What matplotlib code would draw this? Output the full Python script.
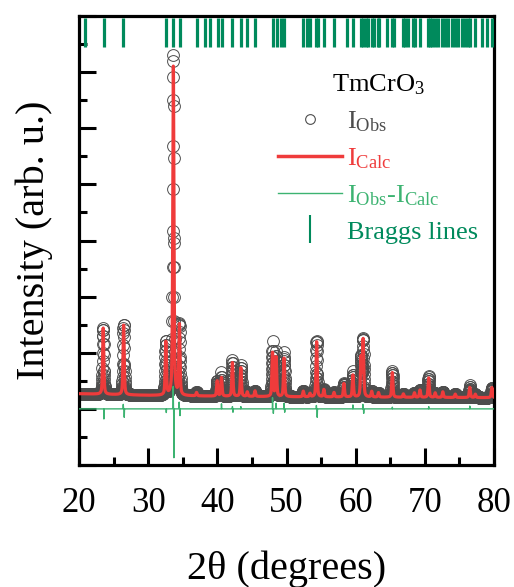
import numpy as np
import matplotlib
matplotlib.use("Agg")
import matplotlib.pyplot as plt
from matplotlib.lines import Line2D
from matplotlib.ticker import MultipleLocator

# ---------------- data ----------------
two_theta_start = 20.0
two_theta_stop = 80.0
two_theta_step = 0.02

# background level of the calculated pattern
bg_knots = [20, 30, 40, 50, 60, 70, 80]
bg_levels = [270, 240, 225, 215, 210, 205, 200]

# calculated reflections: position (deg) and height above background
peak_pos = [23.50, 26.45, 32.55, 33.64, 34.52, 37.00, 39.98, 40.60, 42.18,
            43.40, 44.33, 45.45, 47.98, 48.50, 49.65, 52.43, 53.40, 54.35,
            55.40, 56.87, 58.30, 59.60, 60.78, 61.08, 62.32, 63.30, 65.30,
            66.90, 68.50, 69.30, 70.55, 71.50, 72.60, 74.40, 76.50, 77.30,
            79.70]
peak_height = [1180, 1250, 950, 5860, 1250, 60, 270, 330, 600,
               510, 80, 100, 780, 700, 690, 100, 60, 990,
               130, 80, 240, 390, 690, 1010, 100, 80, 440,
               60, 80, 130, 350, 80, 100, 60, 180, 60,
               180]
peak_fwhm = 0.2

# residual (I_obs - I_calc) features: position and amplitude
diff_pos = [23.60, 26.40, 26.54, 32.62, 33.62, 33.72, 34.48, 34.60, 40.60,
            42.18, 42.26, 43.40, 47.98, 48.10, 48.50, 49.64, 49.74, 54.32,
            54.44, 59.60, 61.04, 61.16, 65.30, 70.56, 76.50]
diff_amp = [-180, 80, -150, -65, 400, -870, 120, -120, 90,
            40, -60, 40, 200, -80, 100, 100, -60, 60,
            -150, 70, 80, -80, 30, 40, 50]

# Bragg reflection positions
bragg_pos = [20.87, 23.66, 26.40, 32.53, 33.64, 34.60, 37.00, 38.20, 38.90,
             40.05, 40.63, 42.16, 43.42, 44.33, 45.45, 48.09, 48.58, 49.21,
             49.64, 52.43, 52.92, 53.40, 54.22, 54.60, 55.47, 56.87, 58.70,
             59.66, 60.77, 61.10, 61.45, 61.82, 62.32, 62.69, 63.18, 63.37,
             64.48, 65.21, 65.58, 66.88, 67.13, 67.61, 68.33, 68.58, 69.30,
             70.50, 70.74, 71.08, 71.47, 71.94, 72.52, 72.91, 73.39, 73.88,
             74.36, 74.84, 75.33, 75.80, 76.28, 76.53, 77.25, 78.22, 78.94,
             79.66]
bragg_low, bragg_high = 6450, 6960

x_ticks = [20, 30, 40, 50, 60, 70, 80]

# ---------------- profile construction ----------------
tt = np.arange(two_theta_start, two_theta_stop + 1e-9, two_theta_step)
calc = np.interp(tt, bg_knots, bg_levels).astype(float)
for p, h in zip(peak_pos, peak_height):
    u = (tt - p) / (peak_fwhm / 2.0)
    lor = 1.0 / (1.0 + u ** 2)
    gau = np.exp(-np.log(2) * u ** 2)
    calc += h * (0.5 * lor + 0.5 * gau)

diff = np.zeros_like(tt)
for p, a in zip(diff_pos, diff_amp):
    diff += a * np.exp(-0.5 * ((tt - p) / 0.012) ** 2)
obs = calc + diff

# ---------------- styling ----------------
plt.rcParams['font.family'] = ['Liberation Serif', 'DejaVu Serif']
plt.rcParams['mathtext.fontset'] = 'custom'
plt.rcParams['mathtext.rm'] = 'Liberation Serif'
plt.rcParams['mathtext.it'] = 'Liberation Serif:italic'
plt.rcParams['mathtext.bf'] = 'Liberation Serif:bold'

c_obs = '#4d4d4d'
c_calc = '#ef3b3b'
c_diff = '#3cb371'
c_bragg = '#008a5c'

fig = plt.figure(figsize=(5.14, 5.87), dpi=100)
ax = fig.add_axes([79 / 514, 1 - 465 / 587, 415 / 514, 449 / 587])

ax.plot(tt, obs, ls='none', marker='o', mfc='none', mec=c_obs, ms=8.5,
        mew=0.7, zorder=2)
ax.plot(tt, calc, color=c_calc, lw=2.3, zorder=3)
ax.plot(tt, diff, color=c_diff, lw=1.0, zorder=3)
ax.vlines(bragg_pos, bragg_low, bragg_high, color=c_bragg, lw=2.3, zorder=4)

ax.set_xlim(20, 80)
ax.set_ylim(-1000, 7000)
ax.set_xticks(x_ticks)
ax.set_xticklabels([str(v) for v in x_ticks])
ax.xaxis.set_minor_locator(MultipleLocator(5))
ax.yaxis.set_major_locator(MultipleLocator(1000))
ax.yaxis.set_minor_locator(MultipleLocator(500))
ax.tick_params(axis='both', which='major', direction='in', length=12,
               width=2.2, top=False, right=False, labelsize=25, pad=16)
ax.tick_params(axis='both', which='minor', direction='in', length=5.5,
               width=2.2, top=False, right=False)
ax.tick_params(axis='y', labelleft=False)
for s in ax.spines.values():
    s.set_linewidth(2.3)

ax.set_xlabel('2θ (degrees)', fontsize=29, labelpad=22)
ax.set_ylabel('Intensity (arb. u.)', fontsize=29, labelpad=15)

handles = [
    Line2D([], [], ls='none', marker='o', mfc='none', mec=c_obs, ms=7,
           mew=0.8),
    Line2D([], [], color=c_calc, lw=2.5),
    Line2D([], [], color=c_diff, lw=1.0),
    Line2D([], [], ls='none', marker='|', ms=20, mew=1.5, color=c_bragg),
]
labels = [r'I$_\mathrm{Obs}$', r'I$_\mathrm{Calc}$',
          r'I$_\mathrm{Obs}$-I$_\mathrm{Calc}$', 'Braggs lines']
leg = ax.legend(handles, labels, title=r'TmCrO$_3$', title_fontsize=19,
                fontsize=19, frameon=False, loc='upper right',
                bbox_to_anchor=(0.962, 0.875), borderpad=0,
                borderaxespad=0, handlelength=2.4, handletextpad=0.2,
                labelspacing=0.47)
for t, c in zip(leg.get_texts(), [c_obs, c_calc, c_diff, c_bragg]):
    t.set_color(c)

fig.savefig('out.png', dpi=100)
